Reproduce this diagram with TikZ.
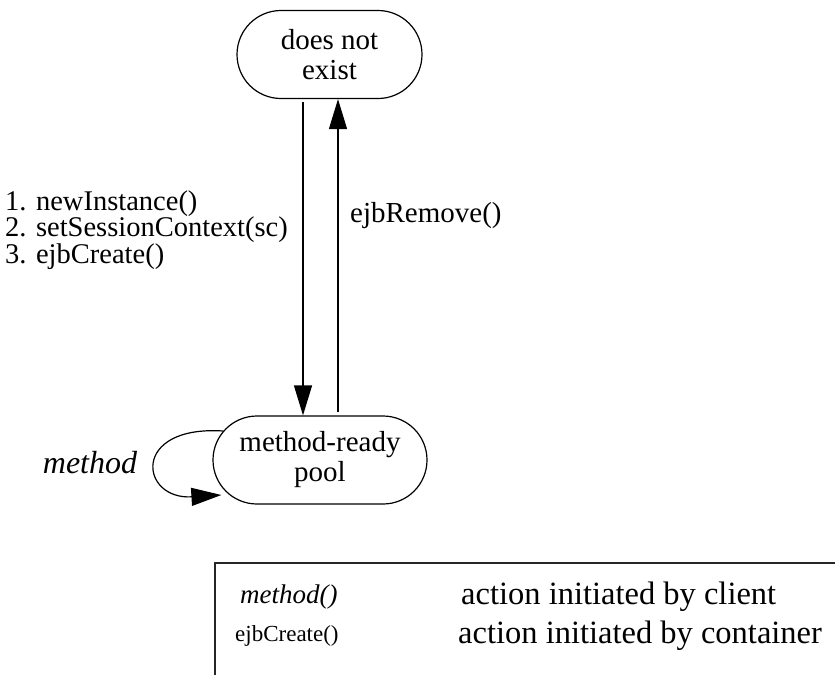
\documentclass[tikz,border=0pt]{standalone}
\usepackage{fontspec}
\setmainfont{Liberation Serif}
\usetikzlibrary{arrows.meta}
\begin{document}
\begin{tikzpicture}[x=1pt,y=-1pt,
  state/.style={draw,line width=1.2pt,rounded corners=44pt,minimum height=88pt,align=center,inner sep=0pt,font=\fontsize{29}{30}\selectfont},
  arr/.style={line width=1.2pt,-{Triangle[length=30pt,width=18pt]}},
  lbl/.style={inner sep=0pt,anchor=west},
  legendline/.style={line width=1.3pt,draw=black!85}
]
\useasboundingbox (0,0) rectangle (835,675);
\node[state,minimum width=185pt] (top) at (329.5,54.5) {does not\\exist};
\node[state,minimum width=214pt] (bot) at (320,460) {method-ready\\pool};
\coordinate (dx) at (303,0);
\coordinate (ux) at (338,0);
\draw[arr,shorten <=3pt] (top.south -| dx) -- (bot.north -| dx);
\draw[arr,shorten <=3pt] (bot.north -| ux) -- (top.south -| ux);
\draw[arr] ([shift={(11,-29)}]bot.west) .. controls (130,425) and (140,500) .. ([shift={(9,35)}]bot.west);
\node[lbl,align=left,font=\fontsize{28.5}{25}\selectfont] (calls) at (5,230) {1. newInstance()\\2. setSessionContext(sc)\\3. ejbCreate()};
\node[lbl,font=\fontsize{29}{30}\selectfont] (remove) at (350,216) {ejbRemove()};
\node[inner sep=0pt,font=\fontsize{32}{34}\selectfont\itshape] (meth) at (90,463) {method};
% legend
\coordinate (lgA) at (215,675);
\coordinate (lgB) at (215,563);
\coordinate (lgC) at (835,563);
\draw[legendline] (lgA) -- (lgB) -- (lgC);
\node[lbl,font=\fontsize{27}{30}\selectfont\itshape] (lm) at (240,597) {method()};
\node[lbl,font=\fontsize{23}{30}\selectfont] (le) at (235,636) {ejbCreate()};
\node[lbl,font=\fontsize{32.5}{34}\selectfont] (lc) at (461,597) {action initiated by client};
\node[lbl,font=\fontsize{32.5}{34}\selectfont] (lk) at (458,636) {action initiated by container};
\end{tikzpicture}
\end{document}
